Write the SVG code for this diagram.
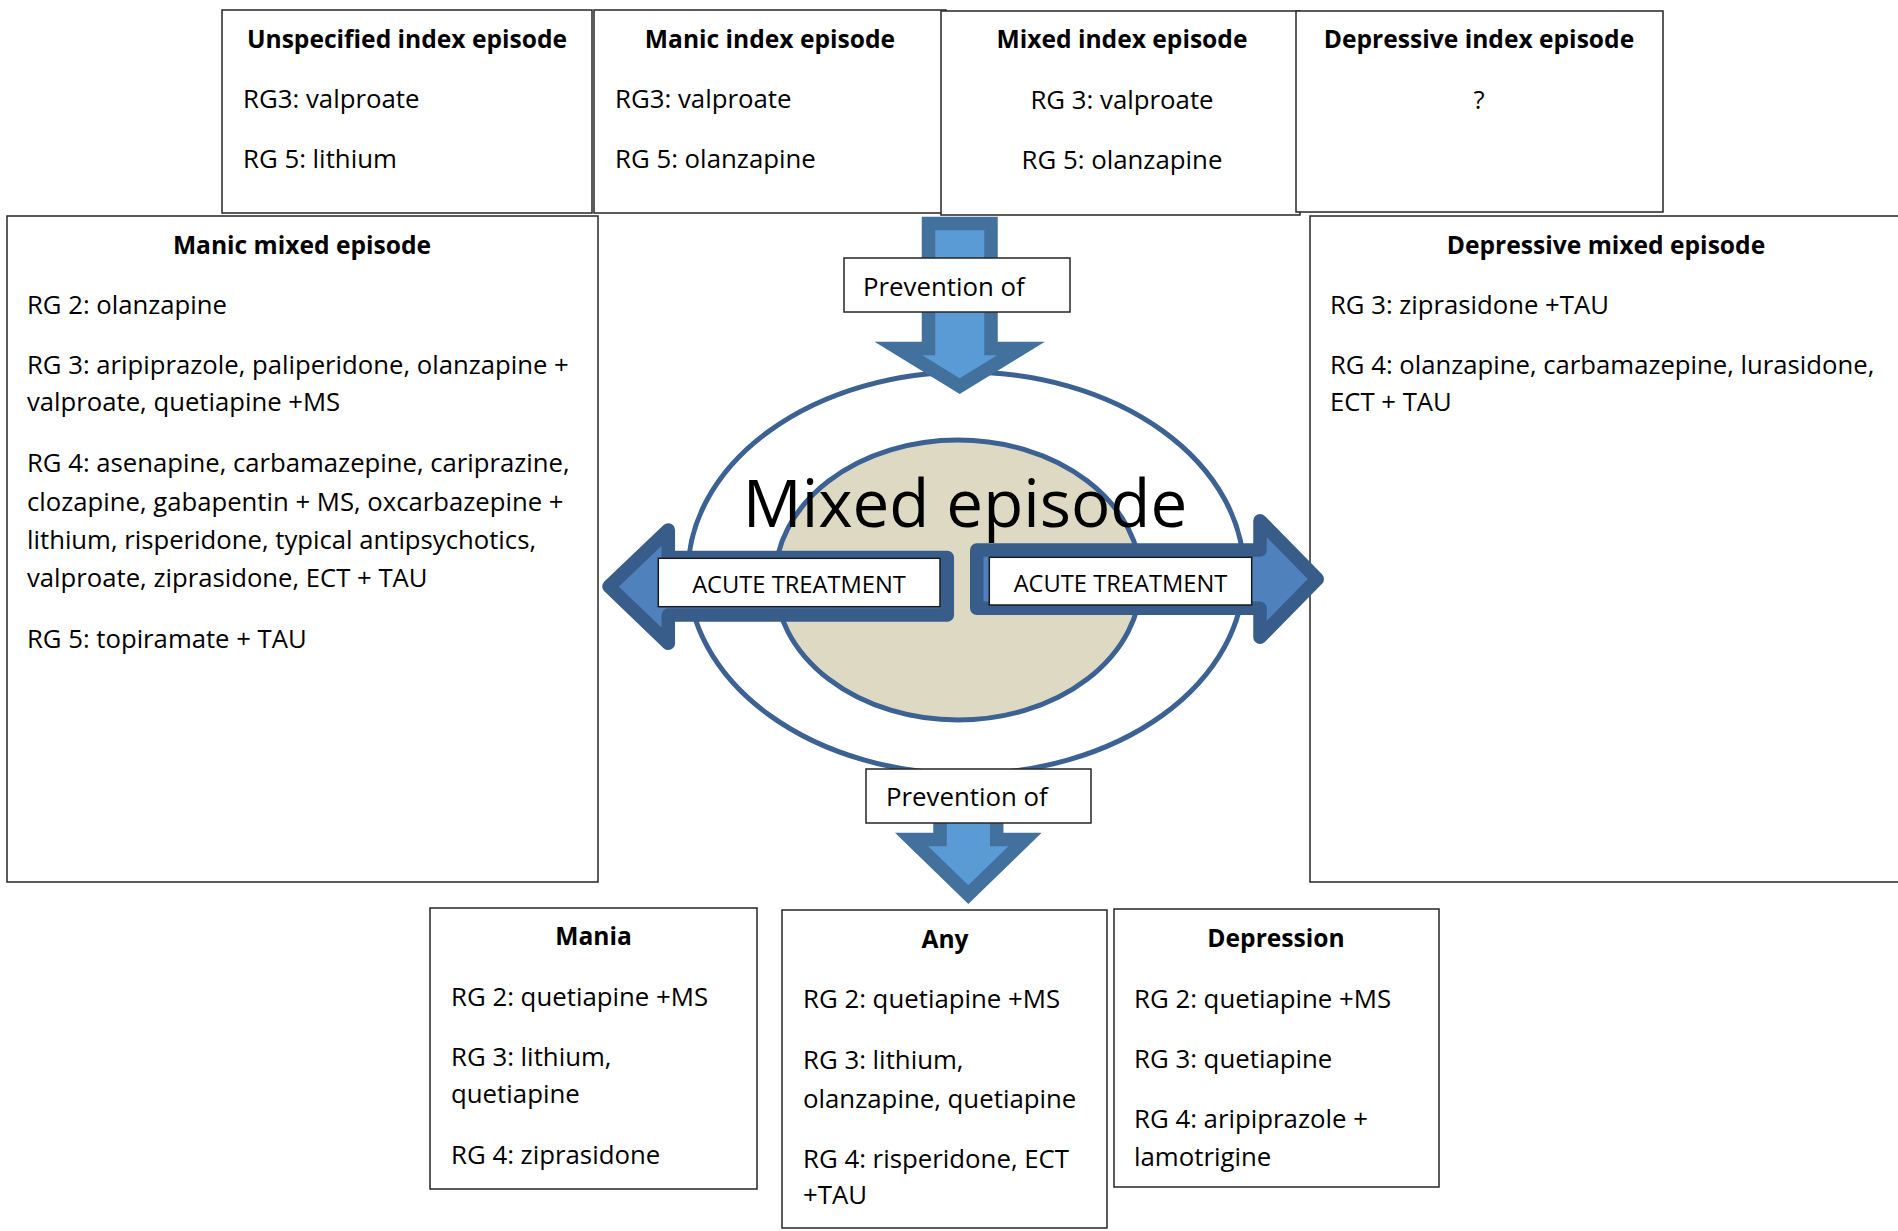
<svg xmlns="http://www.w3.org/2000/svg" width="1898" height="1231" viewBox="0 0 1898 1231">
<style>
text{font-family:"Open Sans","Liberation Sans",sans-serif;fill:#000}
.box{fill:#fff;stroke:#262626;stroke-width:1.5}
.t{font-size:24.6px;font-weight:bold;text-anchor:middle}
.b{font-size:25.8px}
.s{font-size:25.7px}
.c{text-anchor:middle}
.lbl{fill:#fff;stroke:#1a1a1a;stroke-width:1.5}
.at{font-size:23.7px;text-anchor:middle}
.prev{fill:#5B9BD5;stroke:#41719C;stroke-width:13.5;stroke-linejoin:miter}
.acute{fill:#4F81BD;stroke:#385D8A;stroke-width:13.5;stroke-linejoin:round}
.ring{stroke:#3C6193;stroke-width:5}
</style>
<rect width="1898" height="1231" fill="#fff"/>

<g id="unspecified-index">
<rect class="box" x="222" y="10" width="370" height="203"/>
<text class="t" x="407" y="48">Unspecified index episode</text>
<text class="b" x="243" y="107.5">RG3: valproate</text>
<text class="b" x="243" y="167.5">RG 5: lithium</text>
</g>
<g id="manic-index">
<rect class="box" x="594" y="10" width="352" height="203"/>
<text class="t" x="770" y="48">Manic index episode</text>
<text class="b" x="615" y="107.5">RG3: valproate</text>
<text class="b" x="615" y="167.5">RG 5: olanzapine</text>
</g>
<g id="mixed-index">
<rect class="box" x="941" y="11" width="359" height="204"/>
<text class="t" x="1122" y="48">Mixed index episode</text>
<text class="b c" x="1122" y="108.5">RG 3: valproate</text>
<text class="b c" x="1122" y="168.5">RG 5: olanzapine</text>
</g>
<g id="depressive-index">
<rect class="box" x="1296" y="11" width="367" height="201"/>
<text class="t" x="1479" y="48">Depressive index episode</text>
<text class="b c" x="1479" y="108.5">?</text>
</g>

<g id="manic-mixed">
<rect class="box" x="7" y="216" width="591" height="666"/>
<text class="t" x="302" y="254">Manic mixed episode</text>
<text class="s" x="27" y="314">RG 2: olanzapine</text>
<text class="s" x="27" y="374">RG 3: aripiprazole, paliperidone, olanzapine +</text>
<text class="s" x="27" y="411">valproate, quetiapine +MS</text>
<text class="s" x="27" y="472">RG 4: asenapine, carbamazepine, cariprazine,</text>
<text class="s" x="27" y="511">clozapine, gabapentin + MS, oxcarbazepine +</text>
<text class="s" x="27" y="549">lithium, risperidone, typical antipsychotics,</text>
<text class="s" x="27" y="587">valproate, ziprasidone, ECT + TAU</text>
<text class="s" x="27" y="648">RG 5: topiramate + TAU</text>
</g>
<g id="depressive-mixed">
<rect class="box" x="1310" y="216" width="600" height="666"/>
<text class="t" x="1606" y="254">Depressive mixed episode</text>
<text class="s" x="1330" y="314">RG 3: ziprasidone +TAU</text>
<text class="s" x="1330" y="374">RG 4: olanzapine, carbamazepine, lurasidone,</text>
<text class="s" x="1330" y="411">ECT + TAU</text>
</g>

<g id="mixed-episode">
<ellipse class="ring" cx="966" cy="573" rx="278" ry="201" fill="#fff"/>
<ellipse class="ring" cx="958" cy="580" rx="183" ry="140" fill="#DDD9C3"/>
<text x="965" y="527" font-size="65.5" text-anchor="middle">Mixed episode</text>
</g>

<g id="connectors">
<path class="prev" d="M928.5,223.5 H991 V348.5 H1021 L959.7,386.2 L898.4,348.5 H928.5 Z"/>
<path class="acute" d="M947.3,557.5 V615 H668.3 V643.3 L609,586.5 L668.3,530 V557.5 Z"/>
<path class="acute" d="M976.75,550 H1260 V520.75 L1317.25,579 L1260,637.25 V608.25 H976.75 Z"/>
<path class="prev" d="M940,810 H996.7 V839.5 H1025 L968.3,894.6 L911.6,839.5 H940 Z"/>
</g>

<g id="prevention-top">
<rect class="box" x="844" y="258" width="226" height="54"/>
<text class="b" x="863" y="296">Prevention of</text>
</g>
<g id="acute-left">
<rect class="lbl" x="658.3" y="558.3" width="281.7" height="48.4"/>
<text class="at" x="799" y="593">ACUTE TREATMENT</text>
</g>
<g id="acute-right">
<rect class="lbl" x="989.3" y="557.3" width="262.4" height="47.7"/>
<text class="at" x="1120.5" y="592">ACUTE TREATMENT</text>
</g>
<g id="prevention-bottom">
<rect class="box" x="866" y="769" width="225" height="54"/>
<text class="b" x="886" y="806">Prevention of</text>
</g>

<g id="mania">
<rect class="box" x="430" y="908" width="327" height="281"/>
<text class="t" x="593.5" y="945">Mania</text>
<text class="b" x="451" y="1005.5">RG 2: quetiapine +MS</text>
<text class="b" x="451" y="1065.5">RG 3: lithium,</text>
<text class="b" x="451" y="1102.5">quetiapine</text>
<text class="b" x="451" y="1163.5">RG 4: ziprasidone</text>
</g>
<g id="any">
<rect class="box" x="782" y="910" width="325" height="318"/>
<text class="t" x="945" y="948">Any</text>
<text class="b" x="803" y="1007.5">RG 2: quetiapine +MS</text>
<text class="b" x="803" y="1068.5">RG 3: lithium,</text>
<text class="b" x="803" y="1107.5">olanzapine, quetiapine</text>
<text class="b" x="803" y="1167.5">RG 4: risperidone, ECT</text>
<text class="b" x="803" y="1203.5">+TAU</text>
</g>
<g id="depression">
<rect class="box" x="1114" y="909" width="325" height="278"/>
<text class="t" x="1276" y="947">Depression</text>
<text class="b" x="1134" y="1007.5">RG 2: quetiapine +MS</text>
<text class="b" x="1134" y="1067.5">RG 3: quetiapine</text>
<text class="b" x="1134" y="1127.5">RG 4: aripiprazole +</text>
<text class="b" x="1134" y="1165.5">lamotrigine</text>
</g>
</svg>
